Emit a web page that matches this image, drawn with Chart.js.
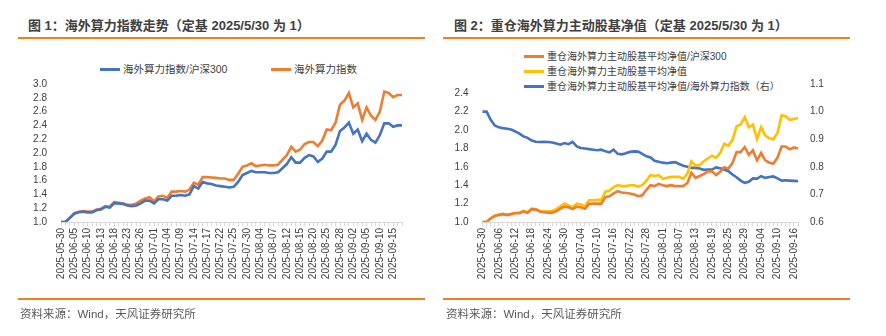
<!DOCTYPE html>
<html>
<head>
<meta charset="utf-8">
<script src="https://cdn.jsdelivr.net/npm/chart.js@4.4.1/dist/chart.umd.min.js"></script>
<style>
  body { margin: 0; width: 886px; height: 336px; background: #fff; position: relative; overflow: hidden;
         font-family: "Liberation Sans", "Noto Sans CJK SC", sans-serif; color: #404040; }
  .title { position: absolute; top: 18px; font: bold 13px "Liberation Sans", "Noto Sans CJK SC", sans-serif;
           line-height: 16px; color: #404040; white-space: nowrap; }
  .rule { position: absolute; height: 2px; background: #f08019; }
  .src { position: absolute; top: 306px; font-size: 11.5px; line-height: 16px; color: #595959; white-space: nowrap; }
  .leg { position: absolute; font-size: 10.5px; line-height: 14px; white-space: nowrap; color: #404040; }
  .leg i { display: inline-block; width: 20px; height: 3px; vertical-align: middle; margin-right: 3px; position: relative; top: -1px; }
  canvas { position: absolute; top: 0; }
</style>
</head>
<body>

<div class="title" style="left:28px">图 1：海外算力指数走势（定基 2025/5/30 为 1）</div>
<div class="rule" style="left:18px; width:407px; top:37px"></div>
<div class="title" style="left:454px">图 2：重仓海外算力主动股基净值（定基 2025/5/30 为 1）</div>
<div class="rule" style="left:443px; width:407px; top:37px"></div>

<div class="leg" style="left:100px; top:62px"><i style="background:#4472c4"></i>海外算力指数/沪深300</div>
<div class="leg" style="left:271px; top:62px"><i style="background:#ed7d31"></i>海外算力指数</div>

<div class="leg" style="left:524px; top:50px; font-size:10px"><i style="background:#ed7d31"></i>重仓海外算力主动股基平均净值/沪深300</div>
<div class="leg" style="left:524px; top:65px; font-size:10px"><i style="background:#ffc000"></i>重仓海外算力主动股基平均净值</div>
<div class="leg" style="left:524px; top:80px; font-size:10px"><i style="background:#4472c4"></i>重仓海外算力主动股基平均净值/海外算力指数（右）</div>

<canvas id="c1" width="443" height="300" style="left:0"></canvas>
<canvas id="c2" width="443" height="300" style="left:443px"></canvas>

<div class="rule" style="left:18px; width:407px; top:298px"></div>
<div class="src" style="left:20px">资料来源：Wind，天风证券研究所</div>
<div class="rule" style="left:443px; width:407px; top:298px"></div>
<div class="src" style="left:446px">资料来源：Wind，天风证券研究所</div>

<script>
// trading days, base 2025-05-30
const dates = [
  '2025-05-30','2025-06-03','2025-06-04','2025-06-05','2025-06-06','2025-06-09','2025-06-10','2025-06-11','2025-06-12','2025-06-13',
  '2025-06-16','2025-06-17','2025-06-18','2025-06-19','2025-06-20','2025-06-23','2025-06-24','2025-06-25','2025-06-26','2025-06-27',
  '2025-06-30','2025-07-01','2025-07-02','2025-07-03','2025-07-04','2025-07-07','2025-07-08','2025-07-09','2025-07-10','2025-07-11',
  '2025-07-14','2025-07-15','2025-07-16','2025-07-17','2025-07-18','2025-07-21','2025-07-22','2025-07-23','2025-07-24','2025-07-25',
  '2025-07-28','2025-07-29','2025-07-30','2025-07-31','2025-08-01','2025-08-04','2025-08-05','2025-08-06','2025-08-07','2025-08-08',
  '2025-08-11','2025-08-12','2025-08-13','2025-08-14','2025-08-15','2025-08-18','2025-08-19','2025-08-20','2025-08-21','2025-08-22',
  '2025-08-25','2025-08-26','2025-08-27','2025-08-28','2025-08-29','2025-09-01','2025-09-02','2025-09-03','2025-09-04','2025-09-05',
  '2025-09-08','2025-09-09','2025-09-10','2025-09-11','2025-09-12','2025-09-15','2025-09-16','2025-09-17'
];

// chart 1
const computeIndex = [
  1.00,1.00,1.06,1.13,1.15,1.16,1.15,1.15,1.18,1.19,
  1.23,1.22,1.29,1.28,1.27,1.25,1.25,1.27,1.31,1.34,
  1.36,1.30,1.37,1.38,1.35,1.44,1.44,1.45,1.44,1.47,
  1.57,1.54,1.65,1.65,1.645,1.64,1.63,1.63,1.61,1.61,
  1.70,1.80,1.82,1.85,1.81,1.82,1.83,1.82,1.82,1.83,
  1.90,1.97,2.09,2.02,2.05,2.13,2.16,2.16,2.10,2.18,
  2.34,2.33,2.44,2.70,2.76,2.87,2.66,2.72,2.48,2.66,
  2.54,2.48,2.60,2.89,2.87,2.81,2.84,2.84
];
const computeVsHs300 = [
  1.00,1.00,1.06,1.12,1.14,1.15,1.14,1.14,1.17,1.18,
  1.22,1.21,1.27,1.27,1.26,1.24,1.23,1.24,1.27,1.31,
  1.31,1.27,1.33,1.33,1.31,1.38,1.38,1.39,1.38,1.40,
  1.52,1.485,1.58,1.56,1.55,1.53,1.52,1.51,1.50,1.51,
  1.58,1.68,1.71,1.74,1.72,1.72,1.72,1.71,1.71,1.72,
  1.78,1.84,1.94,1.86,1.86,1.93,1.97,1.95,1.87,1.92,
  2.02,2.02,2.12,2.32,2.37,2.44,2.28,2.34,2.17,2.28,
  2.19,2.15,2.26,2.43,2.43,2.38,2.40,2.40
];

// chart 2
const fundNav = [
  1.00,1.00,1.04,1.07,1.08,1.09,1.08,1.09,1.10,1.10,
  1.12,1.105,1.145,1.14,1.12,1.115,1.115,1.12,1.14,1.17,
  1.20,1.18,1.16,1.20,1.19,1.175,1.235,1.235,1.24,1.24,
  1.33,1.34,1.38,1.40,1.39,1.39,1.40,1.40,1.385,1.40,
  1.45,1.51,1.50,1.51,1.47,1.48,1.49,1.49,1.49,1.47,
  1.527,1.66,1.61,1.62,1.66,1.69,1.72,1.70,1.75,1.85,
  1.83,1.89,2.04,2.06,2.14,2.03,2.06,1.90,2.03,1.94,
  1.91,1.90,1.97,2.16,2.15,2.11,2.12,2.13
];
const fundVsHs300 = [
  1.00,1.00,1.04,1.065,1.075,1.085,1.075,1.085,1.095,1.095,
  1.115,1.10,1.14,1.135,1.115,1.105,1.10,1.10,1.115,1.145,
  1.167,1.16,1.14,1.167,1.16,1.145,1.195,1.20,1.20,1.20,
  1.27,1.28,1.31,1.335,1.32,1.315,1.31,1.30,1.28,1.29,
  1.35,1.40,1.39,1.415,1.40,1.39,1.40,1.39,1.39,1.39,
  1.425,1.535,1.48,1.50,1.52,1.55,1.55,1.51,1.545,1.595,
  1.58,1.64,1.76,1.76,1.815,1.73,1.78,1.67,1.75,1.67,
  1.645,1.635,1.70,1.82,1.82,1.79,1.81,1.80
];
const fundVsIndex = [
  1.00,1.00,0.97,0.95,0.943,0.94,0.938,0.935,0.928,0.92,
  0.91,0.905,0.895,0.891,0.89,0.891,0.89,0.888,0.884,0.88,
  0.886,0.882,0.89,0.874,0.868,0.866,0.864,0.862,0.86,0.862,
  0.856,0.852,0.862,0.847,0.845,0.849,0.854,0.856,0.855,0.847,
  0.838,0.834,0.822,0.818,0.815,0.813,0.815,0.817,0.81,0.804,
  0.80,0.796,0.796,0.794,0.789,0.79,0.79,0.798,0.795,0.79,
  0.784,0.772,0.762,0.75,0.742,0.746,0.758,0.757,0.766,0.76,
  0.763,0.765,0.758,0.75,0.751,0.75,0.749,0.748
];

const BLUE = '#4472c4', ORANGE = '#ed7d31', YELLOW = '#ffc000';
const tickFont = { family: '"Liberation Sans", sans-serif', size: 10 };
const tickColor = '#404040';

function line(label, data, color, axis) {
  return { label, data, borderColor: color, backgroundColor: color, borderWidth: 2.6,
           pointRadius: 0, tension: 0, yAxisID: axis || 'y' };
}

function xAxis(step) {
  return {
    type: 'category', offset: false,
    grid: { drawOnChartArea: false, drawTicks: true, tickLength: 4, color: '#d9d9d9' },
    border: { display: true, color: '#d9d9d9' },
    ticks: {
      autoSkip: false, minRotation: 90, maxRotation: 90, padding: 2,
      font: tickFont, color: tickColor,
      callback: (v, i) => i % step === 0 ? dates[i] : ''
    },
    afterFit: s => { s.height = 78; }
  };
}

function yAxis(pos, min, max, step, width, pad) {
  return {
    position: pos, min, max,
    grid: { display: false, drawTicks: false },
    border: { display: false },
    ticks: { stepSize: step, includeBounds: false, autoSkip: false, padding: pad, font: tickFont, color: tickColor,
             callback: v => v.toFixed(1) },
    afterFit: s => { s.width = width; }
  };
}

const common = {
  responsive: false, animation: false, devicePixelRatio: 1,
  plugins: { legend: { display: false }, tooltip: { enabled: false } }
};

new Chart(document.getElementById('c1'), {
  type: 'line',
  data: {
    labels: dates,
    datasets: [
      line('海外算力指数/沪深300', computeVsHs300, BLUE),
      line('海外算力指数', computeIndex, ORANGE)
    ]
  },
  options: Object.assign({}, common, {
    layout: { padding: { top: 84, right: 41, left: 0, bottom: 0 } },
    scales: { x: xAxis(3), y: yAxis('left', 1.0, 3.0, 0.2, 61, 14) }
  })
});

new Chart(document.getElementById('c2'), {
  type: 'line',
  data: {
    labels: dates,
    datasets: [
      line('重仓海外算力主动股基平均净值/沪深300', fundVsHs300, ORANGE),
      line('重仓海外算力主动股基平均净值', fundNav, YELLOW),
      line('重仓海外算力主动股基平均净值/海外算力指数（右）', fundVsIndex, BLUE, 'y2')
    ]
  },
  options: Object.assign({}, common, {
    layout: { padding: { top: 84, right: 0, left: 0, bottom: 0 } },
    scales: {
      x: xAxis(4),
      y: yAxis('left', 1.0, 2.5, 0.2, 39.5, 14),
      y2: yAxis('right', 0.6, 1.1, 0.1, 88, 12)
    }
  })
});
</script>
</body>
</html>
